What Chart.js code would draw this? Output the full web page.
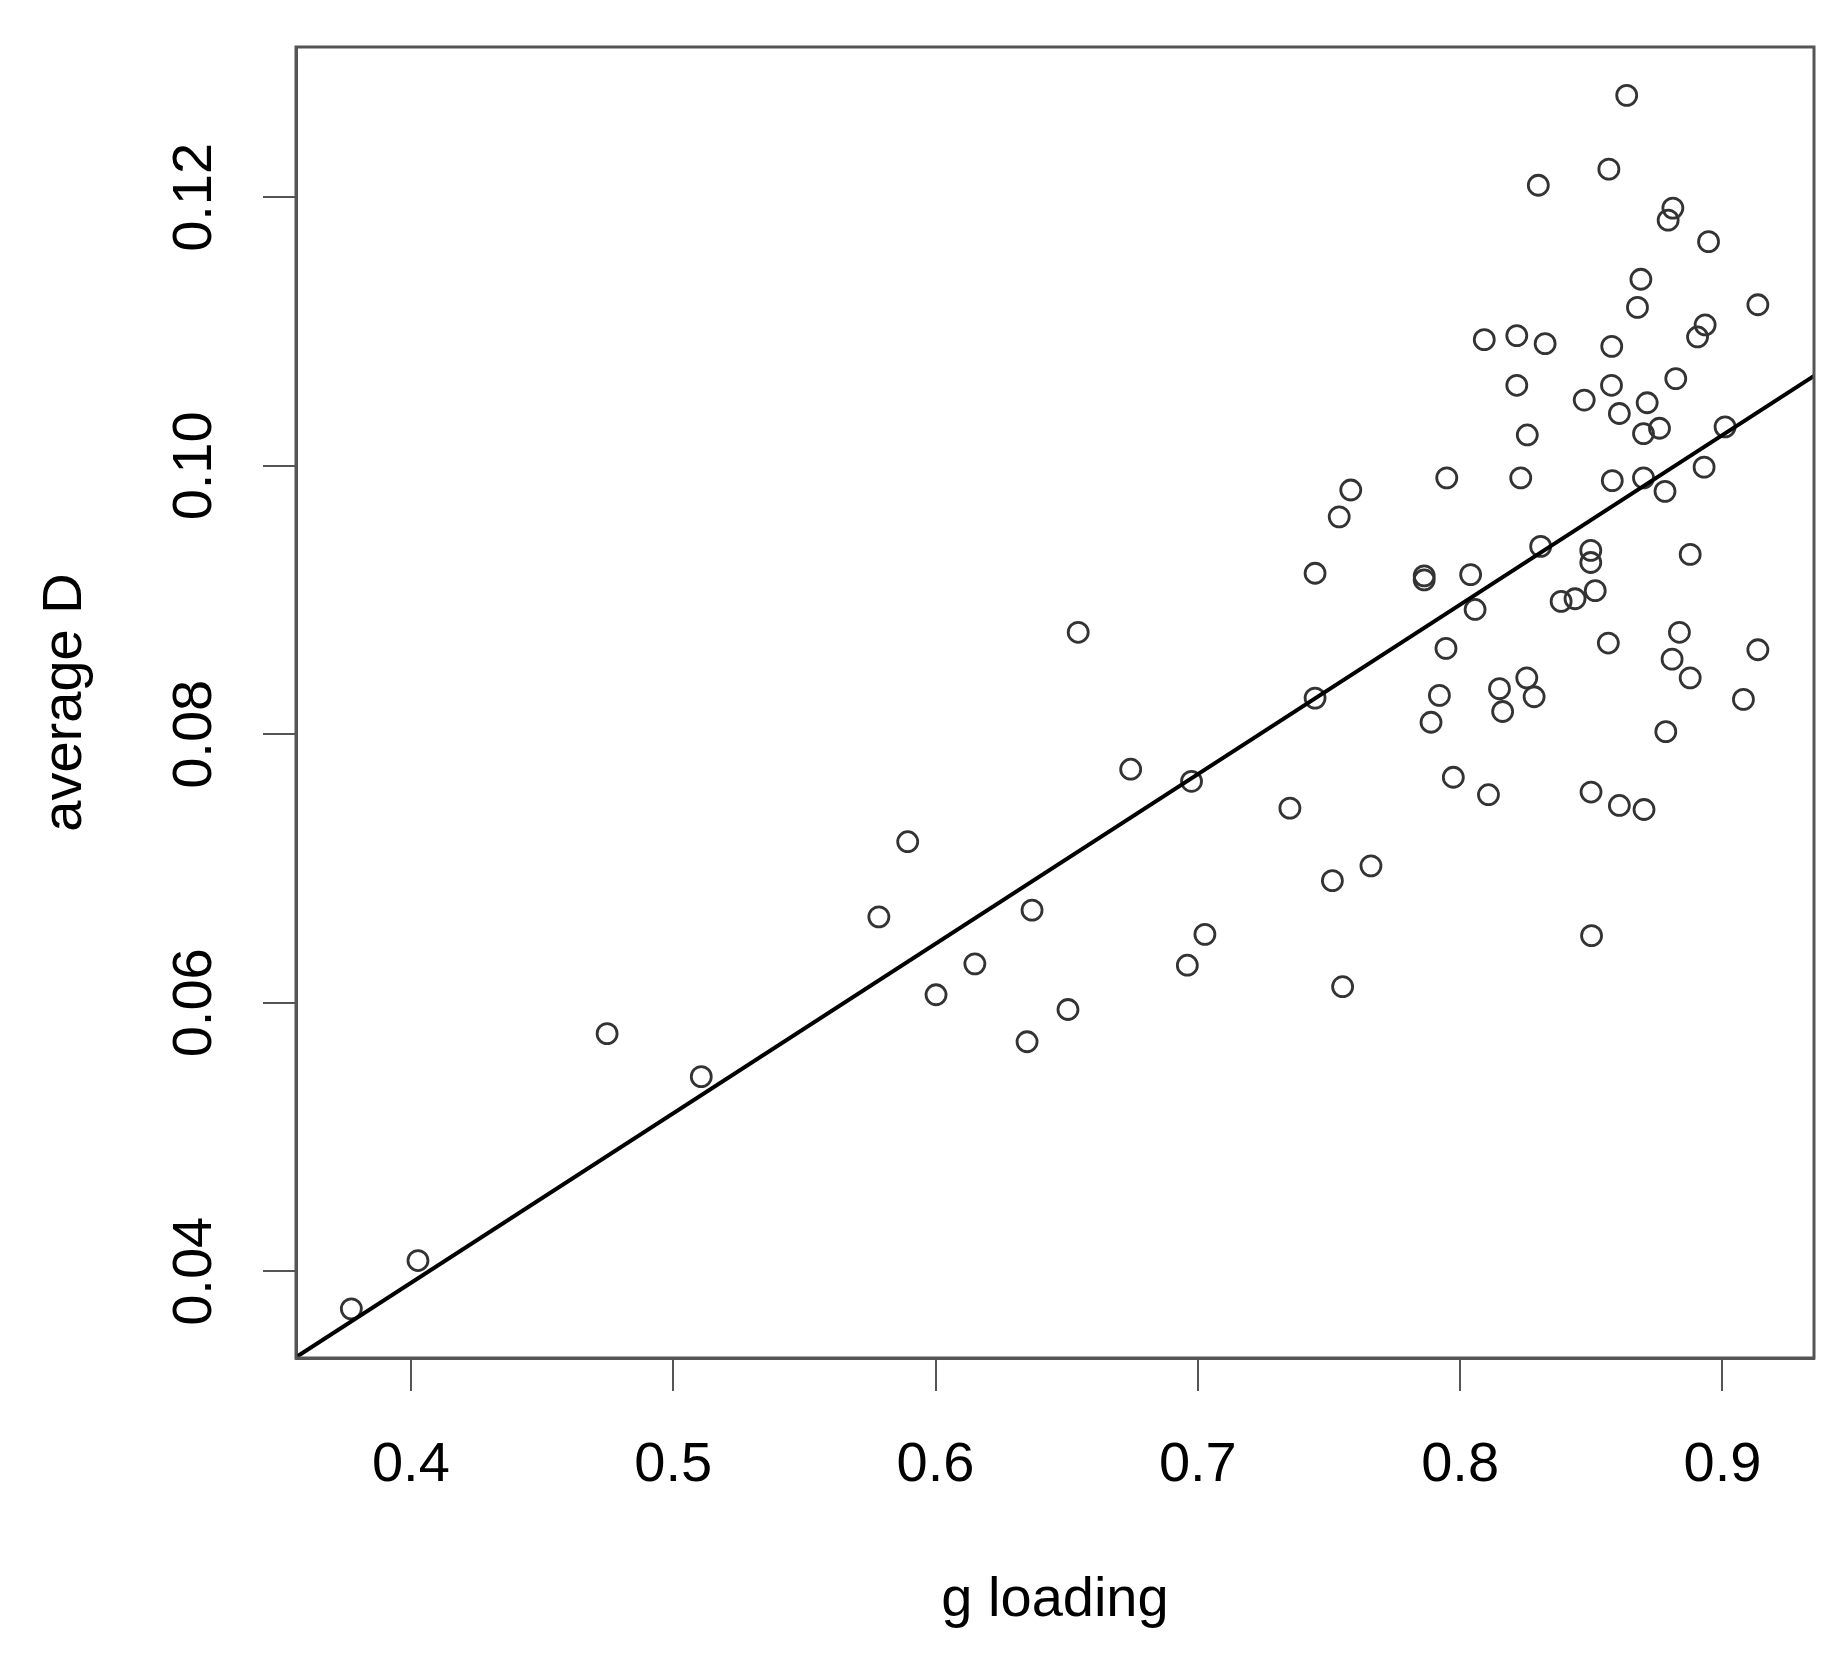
<!DOCTYPE html>
<html>
<head>
<meta charset="utf-8">
<script src="https://cdn.jsdelivr.net/npm/chart.js@4/dist/chart.umd.min.js"></script>
<style>
  html, body { margin: 0; padding: 0; background: #fff; }
  #wrap { width: 1846px; height: 1668px; }
</style>
</head>
<body>
<div id="wrap"><canvas id="c" width="1846" height="1668"></canvas></div>
<script>
// scatter values
const gLoading = [
  0.3773, 0.4027, 0.4748, 0.5107, 0.5784, 0.5894, 0.6002, 0.6150, 0.6349, 0.6368, 0.6505,
  0.6544, 0.6744, 0.6960, 0.6976, 0.7027, 0.7351, 0.7447, 0.7447, 0.7513, 0.7539, 0.7552, 0.7583, 0.7660,
  0.7863, 0.7863, 0.7889, 0.7921, 0.7946, 0.7949, 0.7974, 0.8040, 0.8057, 0.8108, 0.8150, 0.8162,
  0.8231, 0.8254, 0.8282, 0.8307, 0.8385, 0.8438, 0.8498, 0.8498, 0.8499, 0.8515, 0.8565, 0.8580,
  0.8607, 0.8699, 0.8701, 0.8781, 0.8784, 0.8808, 0.8836, 0.8877, 0.8877, 0.8930, 0.9080, 0.9135,
  0.8501,
  0.8092, 0.8216, 0.8216, 0.8256, 0.8298, 0.8324, 0.8473, 0.8567, 0.8577, 0.8578, 0.8607, 0.8635,
  0.8676, 0.8689, 0.8699, 0.8713, 0.8760, 0.8793, 0.8811, 0.8822, 0.8905, 0.8934, 0.8947, 0.9010, 0.9135
];
const averageD = [
  0.0372, 0.0408, 0.0577, 0.0545, 0.0664, 0.0720, 0.0606, 0.0629, 0.0571, 0.0669, 0.0595,
  0.0876, 0.0774, 0.0628, 0.0765, 0.0651, 0.0745, 0.0920, 0.0827, 0.0691, 0.0962, 0.0612, 0.0982, 0.0702,
  0.0918, 0.0915, 0.0809, 0.0829, 0.0864, 0.0991, 0.0768, 0.0919, 0.0893, 0.0755, 0.0834, 0.0817,
  0.0991, 0.0842, 0.0828, 0.0940, 0.0899, 0.0901, 0.0937, 0.0928, 0.0757, 0.0907, 0.0868, 0.0989,
  0.0747, 0.0991, 0.0744, 0.0981, 0.0802, 0.0856, 0.0876, 0.0934, 0.0842, 0.0999, 0.0826, 0.0863,
  0.0650,
  0.1094, 0.1097, 0.1060, 0.1023, 0.1209, 0.1091, 0.1049, 0.1221, 0.1060, 0.1089, 0.1039, 0.1276,
  0.1118, 0.1139, 0.1024, 0.1047, 0.1028, 0.1183, 0.1192, 0.1065, 0.1096, 0.1105, 0.1167, 0.1029, 0.1120
];

// fitted line, ends at the plot edges
const fitX = [0.3562, 0.9349];
const fitY = [0.0336, 0.1067];

// axis ranges and ticks
const xRange = [0.3562, 0.9349];
const yRange = [0.03354, 0.1312];
const xTicks = [0.4, 0.5, 0.6, 0.7, 0.8, 0.9];
const xTickLabels = ['0.4', '0.5', '0.6', '0.7', '0.8', '0.9'];
const yTicks = [0.04, 0.06, 0.08, 0.10, 0.12];
const yTickLabels = ['0.04', '0.06', '0.08', '0.10', '0.12'];

const FONT = "'Liberation Sans', Arial, sans-serif";
const AXIS_GREY = '#555';

// R style box round the plot region
const boxPlugin = {
  id: 'box',
  afterDraw(chart) {
    const a = chart.chartArea;
    const ctx = chart.ctx;
    ctx.save();
    ctx.strokeStyle = AXIS_GREY;
    ctx.lineWidth = 3;
    ctx.strokeRect(a.left, a.top, a.right - a.left, a.bottom - a.top);
    ctx.restore();
  }
};

const points = gLoading.map((x, i) => ({ x: x, y: averageD[i] }));
const fit = fitX.map((x, i) => ({ x: x, y: fitY[i] }));

new Chart(document.getElementById('c'), {
  type: 'scatter',
  data: {
    datasets: [
      {
        type: 'line',
        data: fit,
        borderColor: '#000',
        borderWidth: 4,
        pointRadius: 0,
        fill: false,
        order: 0
      },
      {
        data: points,
        pointStyle: 'circle',
        pointRadius: 10,
        pointBorderWidth: 2.8,
        pointBackgroundColor: 'rgba(0,0,0,0)',
        pointBorderColor: '#333',
        order: 1
      }
    ]
  },
  options: {
    responsive: false,
    animation: false,
    devicePixelRatio: 1,
    layout: { padding: { top: 47, right: 32, left: 0, bottom: 0 } },
    plugins: { legend: { display: false }, tooltip: { enabled: false } },
    scales: {
      x: {
        type: 'linear',
        min: xRange[0],
        max: xRange[1],
        afterBuildTicks: s => { s.ticks = xTicks.map(v => ({ value: v })); },
        afterFit: s => { s.height = 310; },
        grid: { drawOnChartArea: false, drawTicks: true, tickLength: 33, color: AXIS_GREY, lineWidth: 2 },
        border: { display: true, color: AXIS_GREY, width: 3 },
        ticks: {
          autoSkip: false,
          maxRotation: 0,
          padding: 41,
          color: '#000',
          font: { family: FONT, size: 56 },
          callback: (v, i) => xTickLabels[i]
        },
        title: {
          display: true,
          text: 'g loading',
          color: '#000',
          font: { family: FONT, size: 56, lineHeight: 1.2 },
          padding: { top: 0, bottom: 34 }
        }
      },
      y: {
        type: 'linear',
        min: yRange[0],
        max: yRange[1],
        afterBuildTicks: s => { s.ticks = yTicks.map(v => ({ value: v })); },
        afterFit: s => { s.width = 296; },
        grid: { drawOnChartArea: false, drawTicks: true, tickLength: 33, color: AXIS_GREY, lineWidth: 2 },
        border: { display: true, color: AXIS_GREY, width: 3 },
        ticks: {
          autoSkip: false,
          minRotation: 90,
          maxRotation: 90,
          crossAlign: 'center',
          padding: 13,
          color: '#000',
          font: { family: FONT, size: 56 },
          callback: (v, i) => yTickLabels[i]
        },
        title: {
          display: true,
          text: 'average D',
          color: '#000',
          font: { family: FONT, size: 56, lineHeight: 1.2 },
          padding: { top: 32, bottom: 0 }
        }
      }
    }
  },
  plugins: [boxPlugin]
});
</script>
</body>
</html>
